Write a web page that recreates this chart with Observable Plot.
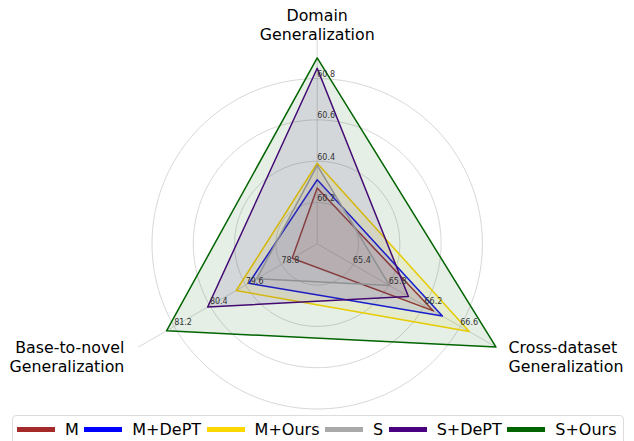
<!DOCTYPE html>
<html>
<head>
<meta charset="utf-8">
<script src="https://cdn.jsdelivr.net/npm/d3@7"></script>
<script src="https://cdn.jsdelivr.net/npm/@observablehq/plot@0.6"></script>
<style>
  html, body { margin: 0; padding: 0; background: #fff; font-family: "DejaVu Sans", sans-serif; }
  #chart svg { display: block; }
  #legend {
    position: absolute; top: 415px; left: 12px; width: 602px; height: 40px;
    border: 1px solid #dcdcdc; border-radius: 4px; padding: 4px 4px 0 4px;
    display: flex; align-items: flex-start; font-size: 16px; line-height: 19px; color: #000;
  }
  .item { display: flex; align-items: center; }
  .sw { width: 38px; height: 5px; margin-right: 10px; }
  .lb { margin-right: 5.5px; white-space: nowrap; }
</style>
</head>
<body>
<div id="chart"></div>
<div id="legend"></div>
<script>
// ---- data ----
const axisNames = ["Domain\nGeneralization", "Base-to-novel\nGeneralization", "Cross-dataset\nGeneralization"];
const axisAngles = [90, 210, 330];
const axisMin = [60.0, 78.0, 65.0];
const axisMax = [61.0, 82.0, 67.0];
const domainTicks = [60.2, 60.4, 60.6, 60.8];
const baseTicks = [78.8, 79.6, 80.4, 81.2];
const crossTicks = [65.4, 65.8, 66.2, 66.6];
const gridLevels = [0.2, 0.4, 0.6, 0.8];

const methods = ["M", "M+DePT", "M+Ours", "S", "S+DePT", "S+Ours"];
const colors = ["#a52a2a", "#0000ff", "#ffd700", "#a9a9a9", "#4b0082", "#006400"];
const domainGen = [60.27, 60.31, 60.39, 60.38, 60.85, 60.90];
const baseToNovel = [78.56, 79.53, 79.81, 79.35, 80.45, 81.37];
const crossDataset = [66.30, 66.40, 66.70, 65.81, 66.02, 67.00];

// ---- geometry helpers ----
const valuesByAxis = [domainGen, baseToNovel, crossDataset];
const ticksByAxis = [domainTicks, baseTicks, crossTicks];
const rad = a => a * Math.PI / 180;
const frac = (ai, v) => (v - axisMin[ai]) / (axisMax[ai] - axisMin[ai]);
const px = (ai, f) => f * Math.cos(rad(axisAngles[ai]));
const py = (ai, f) => f * Math.sin(rad(axisAngles[ai]));

const W = 634, H = 414, R = 206.5, cx = 316.7, cy = 243.3;

const gridRows = gridLevels.flatMap(g => d3.range(0, 360, 2).map(a => ({g, x: g * Math.cos(rad(a)), y: g * Math.sin(rad(a))})));
const spokeRows = axisAngles.map((_, ai) => ({ai}));
const tickRows = ticksByAxis.flatMap((ts, ai) => ts.map(t => ({ai, t, f: frac(ai, t)})));

const polyMarks = methods.flatMap((m, mi) => {
  const rows = axisAngles.map((_, ai) => {
    const f = frac(ai, valuesByAxis[ai][mi]);
    return {method: m, x: px(ai, f), y: py(ai, f)};
  });
  return [Plot.line(rows, {x: "x", y: "y", curve: "linear-closed", stroke: colors[mi], strokeWidth: 1.5, fill: colors[mi], fillOpacity: 0.1})];
});

const labelStyle = {fontSize: 15.8, lineHeight: 1.2, lineAnchor: "top", fill: "#000", text: d => axisNames[d.ai]};

const chart = Plot.plot({
  width: W, height: H, margin: 0,
  style: {fontFamily: "DejaVu Sans, sans-serif", background: "#fff"},
  x: {domain: [-cx / R, (W - cx) / R], axis: null},
  y: {domain: [-(H - cy) / R, cy / R], axis: null},
  marks: [
    Plot.line(gridRows, {x: "x", y: "y", z: "g", curve: "linear-closed", stroke: "#d2d2d2", strokeWidth: 0.9}),
    Plot.link(spokeRows, {x1: 0, y1: 0, x2: d => px(d.ai, 1), y2: d => py(d.ai, 1), stroke: "#d2d2d2", strokeWidth: 0.9}),
    ...polyMarks,
    Plot.text(tickRows, {x: d => px(d.ai, d.f), y: d => py(d.ai, d.f), text: d => d.t.toFixed(1), textAnchor: "start", dy: -4, fontSize: 8, fill: "#333"}),
    Plot.text([{ai: 0}], {...labelStyle, x: d => px(d.ai, 1), y: d => py(d.ai, 1), textAnchor: "middle", dy: -30}),
    Plot.text([{ai: 1}], {...labelStyle, x: d => px(d.ai, 1), y: d => py(d.ai, 1), textAnchor: "end", dx: -14, dy: -7.5}),
    Plot.text([{ai: 2}], {...labelStyle, x: d => px(d.ai, 1), y: d => py(d.ai, 1), textAnchor: "start", dx: 12.5, dy: -7.5})
  ]
});
document.getElementById("chart").appendChild(chart);

const legend = d3.select("#legend");
methods.forEach((m, i) => {
  const it = legend.append("div").attr("class", "item");
  it.append("div").attr("class", "sw").style("background", colors[i]);
  it.append("span").attr("class", "lb").text(m);
});
</script>
</body>
</html>
